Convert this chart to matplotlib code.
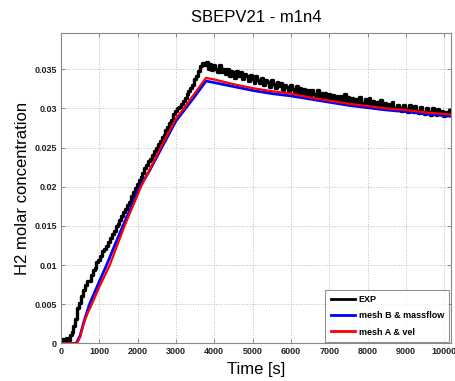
import matplotlib
matplotlib.use("Agg")
import matplotlib.pyplot as plt

plt.rcParams['font.family'] = ['Liberation Sans', 'DejaVu Sans']

# EXP measurements, one value every 50 s starting at t = 0
exp_c = [0.0003, 0.0006, 0.0002, 0.0007, 0.0004, 0.0010, 0.0014, 0.0022, 0.0031, 0.0045,
         0.0052, 0.0061, 0.0068, 0.0074, 0.0080, 0.0079, 0.0087, 0.0093, 0.0096, 0.0104,
         0.0106, 0.0112, 0.0118, 0.0120, 0.0124, 0.0130, 0.0134, 0.0139, 0.0144, 0.0150,
         0.0153, 0.0158, 0.0162, 0.0168, 0.0171, 0.0177, 0.0181, 0.0188, 0.0193, 0.0198,
         0.0203, 0.0209, 0.0212, 0.0218, 0.0224, 0.0228, 0.0233, 0.0236, 0.0241, 0.0245,
         0.0250, 0.0254, 0.0258, 0.0263, 0.0266, 0.0272, 0.0276, 0.0281, 0.0285, 0.0293,
         0.0297, 0.0300, 0.0302, 0.0306, 0.0309, 0.0313, 0.0318, 0.0322, 0.0326, 0.0330,
         0.0337, 0.0341, 0.0348, 0.0354, 0.0358, 0.0356, 0.0359,
         0.0350, 0.0357, 0.0349, 0.0355, 0.0350, 0.0347, 0.0355, 0.0346, 0.0351, 0.0344,
         0.0350, 0.0342, 0.0348, 0.0346, 0.0339, 0.0348, 0.0341, 0.0346, 0.0337, 0.0344,
         0.0341, 0.0335, 0.0343, 0.0338, 0.0333, 0.0341, 0.0336, 0.0332, 0.0339, 0.0330,
         0.0336, 0.0334, 0.0328, 0.0336, 0.0331, 0.0326, 0.0334, 0.0329, 0.0333, 0.0324,
         0.0330, 0.0327, 0.0322, 0.0330, 0.0325, 0.0321, 0.0329, 0.0320, 0.0326, 0.0319,
         0.0325, 0.0318, 0.0324, 0.0316, 0.0323, 0.0319, 0.0315, 0.0323, 0.0314, 0.0320,
         0.0313, 0.0320, 0.0312, 0.0318, 0.0311, 0.0317, 0.0310, 0.0316, 0.0309, 0.0316,
         0.0308, 0.0319, 0.0309, 0.0314, 0.0307, 0.0313, 0.0306, 0.0312, 0.0305, 0.0314,
         0.0307, 0.0304, 0.0312, 0.0306, 0.0313, 0.0303, 0.0309, 0.0302, 0.0308, 0.0301,
         0.0311, 0.0302, 0.0307, 0.0300, 0.0306, 0.0299, 0.0308, 0.0300, 0.0298, 0.0305,
         0.0300, 0.0297, 0.0304, 0.0299, 0.0296, 0.0304, 0.0298, 0.0295, 0.0303, 0.0297,
         0.0294, 0.0302, 0.0296, 0.0293, 0.0301, 0.0295, 0.0292, 0.0300, 0.0294, 0.0291,
         0.0299, 0.0293, 0.0297, 0.0290, 0.0296, 0.0292, 0.0298]
exp_t = list(range(0, 50 * len(exp_c), 50))

# Simulation: mesh B & massflow
b_t = [0, 400, 500, 600, 744, 1000, 1190, 1400, 1615, 2060, 2304, 2650, 3000, 3250,
       3500, 3783, 4000, 4500, 5000, 5500, 6000, 6500, 7000, 7500, 8000, 8500, 9000,
       9500, 10000, 10170]
b_c = [0.0, 0.0, 0.0010, 0.0028, 0.0050, 0.0079, 0.0100, 0.0125, 0.0150, 0.0200, 0.0220,
       0.0252, 0.0284, 0.0300, 0.0316, 0.0335, 0.0333, 0.0328, 0.0323, 0.0319, 0.0316,
       0.0312, 0.0308, 0.0304, 0.0301, 0.0298, 0.0296, 0.0293, 0.0291, 0.0290]

# Simulation: mesh A & vel
a_t = [0, 420, 500, 590, 700, 805, 1000, 1274, 1450, 1659, 2087, 2304, 2600, 3000, 3220,
       3500, 3783, 4000, 4500, 5000, 5500, 6000, 6500, 7000, 7500, 8000, 8500, 9000,
       9500, 10000, 10170]
a_c = [0.0, 0.0, 0.0008, 0.0025, 0.0039, 0.0050, 0.0072, 0.0100, 0.0123, 0.0150, 0.0200,
       0.0221, 0.0250, 0.0287, 0.0301, 0.0320, 0.0339, 0.0337, 0.0331, 0.0326, 0.0322,
       0.0319, 0.0314, 0.0310, 0.0306, 0.0303, 0.0300, 0.0298, 0.0295, 0.0293, 0.0292]

xticks = [0, 1000, 2000, 3000, 4000, 5000, 6000, 7000, 8000, 9000, 10000]
yticks = [0, 0.005, 0.01, 0.015, 0.02, 0.025, 0.03, 0.035]
ytick_labels = ['0', '0.005', '0.01', '0.015', '0.02', '0.025', '0.03', '0.035']

fig = plt.figure(figsize=(4.56, 3.81), dpi=100)
ax = fig.add_axes([0.1338, 0.099, 0.8546, 0.8136])

ax.plot(exp_t, exp_c, color='black', lw=2.4, drawstyle='steps-mid', label='EXP')
ax.plot(b_t, b_c, color='#0000ff', lw=2.0, label='mesh B & massflow')
ax.plot(a_t, a_c, color='#ff0000', lw=1.6, label='mesh A & vel')

ax.set_xlim(0, 10170)
ax.set_ylim(0, 0.0396)
ax.set_xticks(xticks)
ax.set_xticklabels([str(v) for v in xticks])
ax.set_yticks(yticks)
ax.set_yticklabels(ytick_labels)
ax.tick_params(direction='in', top=True, right=True, length=3, width=0.6,
               color='#777777', labelsize=6.5, pad=3)
for lab in ax.get_xticklabels() + ax.get_yticklabels():
    lab.set_fontweight('bold')
    lab.set_color('#222222')
for s in ax.spines.values():
    s.set_color('#888888')
    s.set_linewidth(0.8)
ax.grid(True, linestyle=':', color='#bbbbbb', linewidth=0.7)

ax.set_title('SBEPV21 - m1n4', fontsize=12, pad=8)
ax.set_xlabel('Time [s]', fontsize=12, labelpad=4)
ax.set_ylabel('H2 molar concentration', fontsize=12, labelpad=3)

leg = ax.legend(loc='lower right', frameon=True, fancybox=False,
                handlelength=2.7, handletextpad=0.4, borderpad=0.6, labelspacing=0.8,
                borderaxespad=0.15, prop={'weight': 'bold', 'size': 6.5})
leg.get_frame().set_edgecolor('#777777')
leg.get_frame().set_linewidth(0.8)
for ln in leg.get_lines():
    ln.set_linewidth(2.0)

fig.savefig('out.png', dpi=100)
